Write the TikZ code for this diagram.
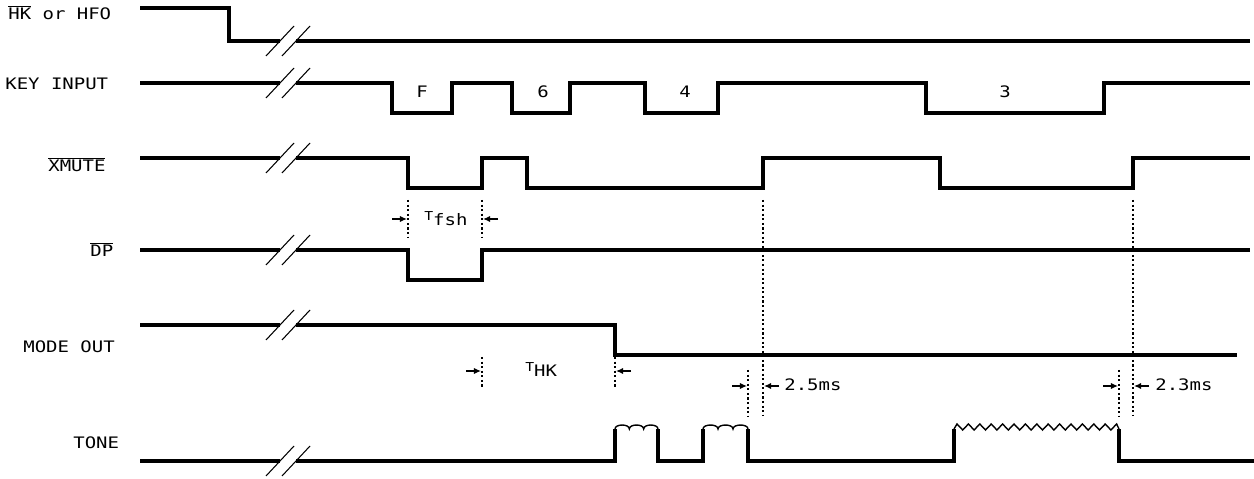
\documentclass[tikz,border=0pt]{standalone}
\usepackage{fontspec}
\setmonofont[FakeStretch=1.2]{DejaVu Sans Mono}
\usetikzlibrary{arrows.meta}
\tikzset{>=latex}
\tikzset{
    sig/.style={line width=1.8pt},
    ripple/.style={line width=0.8pt},
    guide/.style={line width=0.6pt, dash pattern=on 1.2pt off 1.4pt},
    tick/.style={line width=0.7pt, -{Latex[length=4pt,width=3.5pt]}},
    lbl/.style={font=\ttfamily\fontsize{9}{10}\selectfont, inner sep=0pt, anchor=base west},
}
% break marks on a trace
\newcommand{\tracegap}[1]{%
    \draw[line width=0.6pt] (266,#1+15) -- (294,#1-15);
    \draw[line width=0.6pt] (282,#1+15) -- (310,#1-15);
}

\begin{document}
\begin{tikzpicture}[x=0.02cm, y=-0.02cm]
        \useasboundingbox (0,0) rectangle (1254,479);

        % signal names
        \node[lbl] (hk) at (8,20) {$\overline{\mbox{HK}}$ or HFO};
        \node[lbl] (key) at (5,90) {KEY INPUT};
        \node[lbl] (xmute) at (48,172) {$\overline{\mbox{XMUTE}}$};
        \node[lbl] (dp) at (90,257) {$\overline{\mbox{DP}}$};
        \node[lbl] (mode) at (23,353) {MODE OUT};
        \node[lbl] (tone) at (73,448) {TONE};

        % hk or hfo
        \draw[sig] (140,8) -- (229,8) -- (229,41) -- (280,41);
        \draw[sig] (296,41) -- (1250,41);
        \tracegap{41}

        % key input
        \draw[sig] (140,83) -- (280,83);
        \draw[sig] (296,83) -- (392,83) -- (392,113) -- (452,113) -- (452,83)
            -- (512,83) -- (512,113) -- (570,113) -- (570,83)
            -- (645,83) -- (645,113) -- (718,113) -- (718,83)
            -- (926,83) -- (926,113) -- (1104,113) -- (1104,83) -- (1250,83);
        \tracegap{83}
        \node[lbl, anchor=base] (kf) at (422,98) {F};
        \node[lbl, anchor=base] (k6) at (543,98) {6};
        \node[lbl, anchor=base] (k4) at (685,98) {4};
        \node[lbl, anchor=base] (k3) at (1005,98) {3};

        % xmute
        \draw[sig] (140,158) -- (280,158);
        \draw[sig] (296,158) -- (408,158) -- (408,188) -- (482,188) -- (482,158)
            -- (527,158) -- (527,188) -- (763,188) -- (763,158)
            -- (940,158) -- (940,188) -- (1133,188) -- (1133,158) -- (1250,158);
        \tracegap{158}

        % fsh timing
        \draw[guide] (408,200) -- (408,237);
        \draw[guide] (482,200) -- (482,237);
        \draw[tick] (392,219) -- (407,219);
        \draw[tick] (498,219) -- (483,219);
        \node[lbl] (tfsh) at (424,226) {\raisebox{0.6ex}{\fontsize{7}{8}\selectfont T}fsh};

        % dp
        \draw[sig, line width=2.4pt] (140,250) -- (280,250);
        \draw[sig, line width=2.4pt] (296,250) -- (408,250) -- (408,280) -- (482,280)
            -- (482,250) -- (1250,250);
        \tracegap{250}

        % mode out
        \draw[sig] (140,325) -- (280,325);
        \draw[sig] (296,325) -- (615,325) -- (615,355) -- (1237,355);
        \tracegap{325}

        % hk timing
        \draw[guide] (482,357) -- (482,388);
        \draw[guide] (615,357) -- (615,388);
        \draw[tick] (466,371) -- (481,371);
        \draw[tick] (631,371) -- (616,371);
        \node[lbl] (thk) at (525,377) {\raisebox{0.6ex}{\fontsize{7}{8}\selectfont T}HK};

        % mute release
        \draw[guide] (763,200) -- (763,416);
        \draw[guide] (1133,200) -- (1133,416);
        \draw[guide] (748,370) -- (748,416);
        \draw[guide] (1119,370) -- (1119,416);
        \draw[tick] (732,386) -- (747,386);
        \draw[tick] (779,386) -- (764,386);
        \node[lbl] (t25) at (784,391) {2.5ms};
        \draw[tick] (1103,386) -- (1118,386);
        \draw[tick] (1149,386) -- (1134,386);
        \node[lbl] (t23) at (1155,391) {2.3ms};

        % tone
        \draw[sig] (140,461) -- (280,461);
        \draw[sig] (296,461) -- (615,461) -- (615,429);
        \draw[sig] (658,429) -- (658,461) -- (703,461) -- (703,429);
        \draw[sig] (748,429) -- (748,461) -- (954,461) -- (954,429);
        \draw[sig] (1119,429) -- (1119,461) -- (1254,461);
        \tracegap{461}
        \draw[ripple] (615,429) \foreach \k in {0,1,2} { .. controls +(0,-5.3) and +(0,-5.3) .. ++(14.33,0) };
        \draw[ripple] (703,429) \foreach \k in {0,1,2} { .. controls +(0,-5.3) and +(0,-5.3) .. ++(15,0) };
        \draw[ripple] (954,429) -- (957,424) \foreach \k in {0,...,13} { -- ++(5.7,6) -- ++(5.7,-6) } -- (1119,429);
    \end{tikzpicture}
\end{document}
